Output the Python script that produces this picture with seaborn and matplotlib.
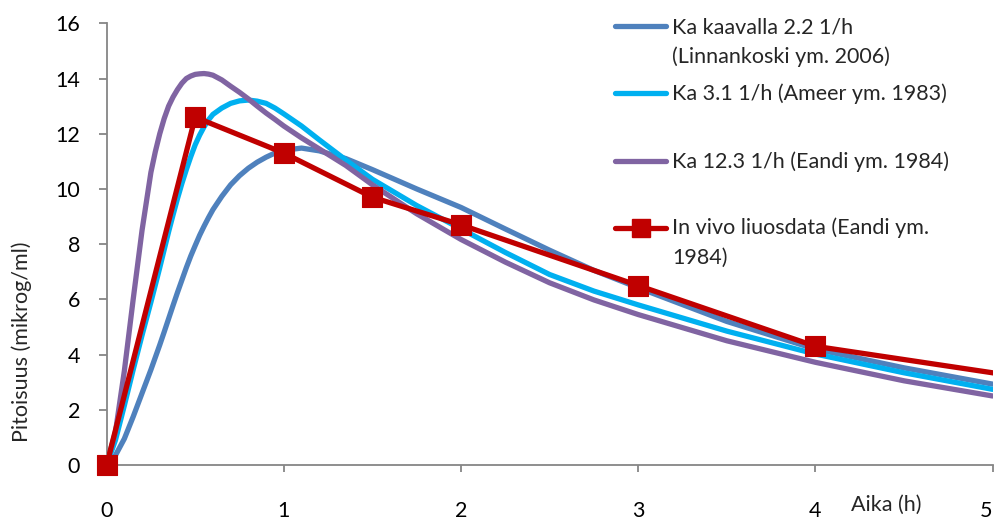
import matplotlib
matplotlib.use("Agg")
import matplotlib.pyplot as plt
from matplotlib.lines import Line2D
import seaborn as sns
import pandas as pd

# Time points (h) at which the modelled curves are tabulated
t_model = [0, 0.05, 0.1, 0.15, 0.2, 0.25, 0.275, 0.3, 0.325, 0.35, 0.375, 0.4,
           0.425, 0.45, 0.475, 0.5, 0.525, 0.55, 0.575, 0.6, 0.65, 0.7, 0.75, 0.8,
           0.85, 0.9, 0.95, 1.0, 1.1, 1.2, 1.35, 1.5, 1.75, 2.0, 2.25, 2.5,
           2.75, 3.0, 3.5, 4.0, 4.5, 5.0]

# Modelled concentrations (mikrog/ml)
c_ka22 = [0, 0.35, 0.95, 1.75, 2.6, 3.45, 3.9, 4.35, 4.82, 5.3, 5.78, 6.25,
          6.7, 7.15, 7.57, 7.95, 8.32, 8.65, 8.96, 9.25, 9.73, 10.15, 10.48, 10.75,
          10.97, 11.15, 11.3, 11.4, 11.48, 11.38, 11.1, 10.7, 10.0, 9.33, 8.55, 7.78,
          7.05, 6.42, 5.2, 4.2, 3.52, 2.93]
c_ka31 = [0, 0.9, 2.15, 3.45, 4.7, 5.9, 6.52, 7.15, 7.8, 8.45, 9.06, 9.65,
          10.2, 10.7, 11.17, 11.6, 11.95, 12.25, 12.5, 12.7, 12.93, 13.1, 13.19, 13.22,
          13.18, 13.1, 12.93, 12.72, 12.28, 11.78, 11.05, 10.35, 9.4, 8.55, 7.7, 6.9,
          6.3, 5.8, 4.85, 4.02, 3.34, 2.74]
c_ka123 = [0, 1.2, 3.4, 6.0, 8.5, 10.6, 11.35, 12.0, 12.55, 13.0, 13.33, 13.6,
           13.83, 14.0, 14.09, 14.15, 14.17, 14.18, 14.16, 14.12, 13.95, 13.72, 13.5, 13.26,
           13.0, 12.75, 12.52, 12.28, 11.85, 11.45, 10.85, 10.15, 9.1, 8.17, 7.35, 6.6,
           5.98, 5.45, 4.5, 3.72, 3.05, 2.5]

# Measured in vivo solution data
t_obs = [0, 0.5, 1, 1.5, 2, 3, 4, 6]
c_obs = [0, 12.6, 11.3, 9.7, 8.7, 6.5, 4.3, 2.38]

labels = ["Ka kaavalla 2.2 1/h\n(Linnankoski ym. 2006)",
          "Ka 3.1 1/h (Ameer ym. 1983)",
          "Ka 12.3 1/h (Eandi ym. 1984)",
          "In vivo liuosdata (Eandi ym.\n1984)"]
colors = ["#4F81BD", "#00B0F0", "#8064A2", "#C00000"]

sns.set_theme(style="white")
plt.rcParams["font.family"] = ["Lato", "DejaVu Sans"]
FS = 15.5
W, H = 994, 520

fig = plt.figure(figsize=(W / 100, H / 100), dpi=100)
ax = fig.add_axes([106.6 / W, 55 / H, (992.6 - 106.6) / W, (465 - 23.3) / H])

lw = 3.8
for c, col in zip([c_ka22, c_ka31, c_ka123], colors[:3]):
    df = pd.DataFrame({"t": t_model, "c": c})
    sns.lineplot(data=df, x="t", y="c", color=col, linewidth=lw, ax=ax,
                 sort=False, solid_capstyle="round", solid_joinstyle="round")

obs = pd.DataFrame({"t": t_obs, "c": c_obs})
sns.lineplot(data=obs, x="t", y="c", color=colors[3], linewidth=lw, ax=ax,
             sort=False, solid_capstyle="round", solid_joinstyle="round", zorder=5)
shown = obs[obs["t"] <= 5]
sns.scatterplot(data=shown, x="t", y="c", color=colors[3], marker="s", s=190,
                edgecolor=colors[3], linewidth=0.8, ax=ax, zorder=6, clip_on=False)

ax.set_xlim(0, 5)
ax.set_ylim(0, 16)
ax.set_xticks(range(0, 6))
ax.set_yticks(range(0, 17, 2))
ax.set_xlabel("")
ax.set_ylabel("")

grey = "#868686"
for side in ["top", "right"]:
    ax.spines[side].set_visible(False)
for side in ["left", "bottom"]:
    ax.spines[side].set_color(grey)
    ax.spines[side].set_linewidth(1.3)
ax.tick_params(axis="y", direction="out", length=6, width=1.3, color=grey,
               pad=13, labelsize=FS, labelcolor="black", left=True)
ax.tick_params(axis="x", direction="out", length=5, width=1.3, color=grey,
               pad=21, labelsize=FS, labelcolor="black", bottom=True)
# keep the last tick label inside the figure
ax.get_xticklabels()[-1].set_horizontalalignment("right")

fig.text(22 / W, 1 - 342 / H, "Pitoisuus (mikrog/ml)", rotation=90,
         ha="center", va="center", fontsize=FS)
fig.text(886 / W, 1 - 505 / H, "Aika (h)", ha="center", va="center", fontsize=FS)

# Legend entries
handle_y = [26, 93.3, 161, 228.3]
baselines = [[33.3, 63.3], [100], [167.7], [234, 264]]
for i, (lab, col) in enumerate(zip(labels, colors)):
    y = 1 - handle_y[i] / H
    fig.add_artist(Line2D([615 / W, 666 / W], [y, y], color=col, linewidth=lw,
                          solid_capstyle="round", transform=fig.transFigure))
    if i == 3:
        fig.add_artist(Line2D([640.5 / W], [y], color=col, marker="s",
                              markersize=12.5, transform=fig.transFigure))
    for line, b in zip(lab.split("\n"), baselines[i]):
        fig.text(672 / W, 1 - b / H, line, ha="left", va="baseline", fontsize=FS)

fig.savefig("out.png", dpi=100)
